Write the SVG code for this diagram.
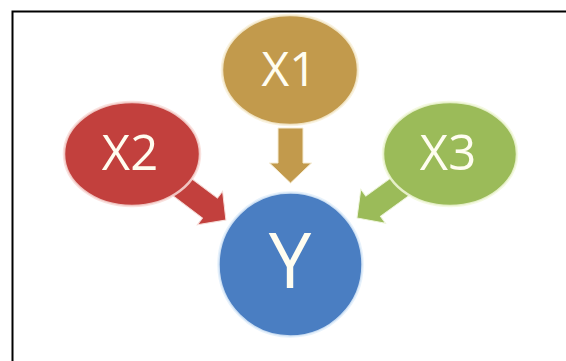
<svg xmlns="http://www.w3.org/2000/svg" width="566" height="361" viewBox="0 0 566 361">
<style>
.lbl{font-family:"Open Sans","Liberation Sans",sans-serif;fill:#fffdf0;text-anchor:middle}
.glow{stroke-width:2.5;stroke-opacity:0.85}
</style>
<defs>
<polygon id="arr" points="0,-12.5 40,-12.5 40,-21 60,0 40,21 40,12.5 0,12.5"/>
</defs>
<rect width="566" height="361" fill="#ffffff"/>
<path d="M12.5,361 V11.5 H566" fill="none" stroke="#000" stroke-width="2"/>
<g id="connectors">
<polygon points="0,-12.5 35,-12.5 35,-21 55,0 35,21 35,12.5 0,12.5" transform="translate(290.5,128) rotate(90)" fill="#C29A4C" stroke="#f6ecd2" stroke-width="1"/>
<use href="#arr" transform="translate(178,184) rotate(37)" fill="#C2403D" stroke="#f6dcd8" stroke-width="1"/>
<use href="#arr" transform="translate(405.5,182.7) rotate(144)" fill="#9BBB59" stroke="#eef5dc" stroke-width="1"/>
</g>
<g id="X1">
<ellipse cx="290" cy="70" rx="68" ry="55" fill="#C29A4C" stroke="#f8f0d8" class="glow"/>
<text x="289" y="86" font-size="48" class="lbl">X1</text>
</g>
<g id="X2">
<ellipse cx="132" cy="154" rx="68" ry="52" fill="#C2403D" stroke="#f8dcd8" class="glow"/>
<text x="130" y="170" font-size="49" class="lbl">X2</text>
</g>
<g id="X3">
<ellipse cx="450" cy="154" rx="67" ry="52" fill="#9BBB59" stroke="#f2f8dc" class="glow"/>
<text x="448" y="170" font-size="49" class="lbl">X3</text>
</g>
<g id="Y">
<circle cx="290.5" cy="264.5" r="72" fill="#4A7EC2" stroke="#e2eefa" class="glow"/>
<text x="290" y="288" font-size="76" class="lbl">Y</text>
</g>
</svg>
